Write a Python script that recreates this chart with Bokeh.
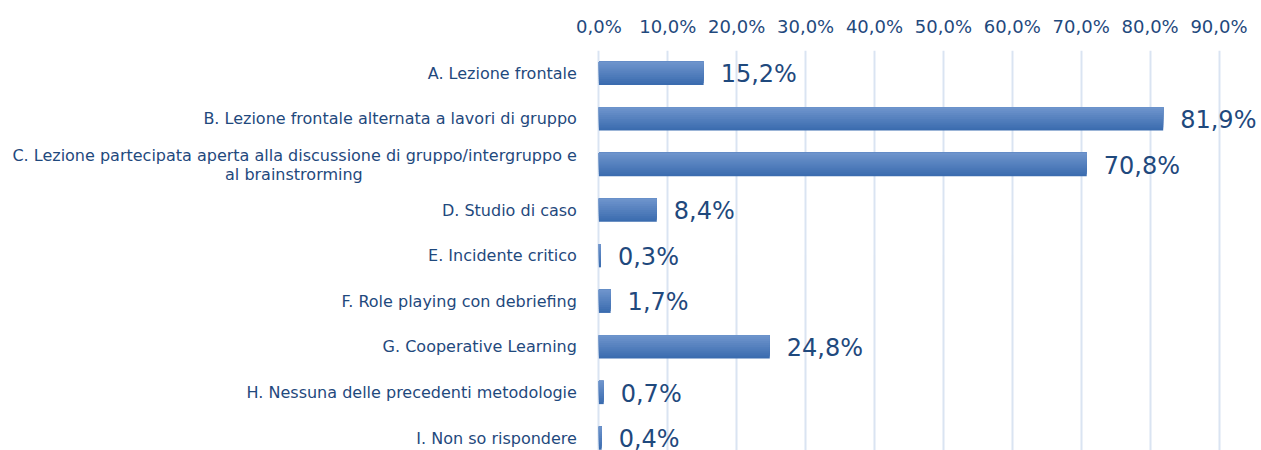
from bokeh.plotting import figure
from bokeh.models import FixedTicker, Range1d, ColumnDataSource
from bokeh.embed import file_html
from bokeh.resources import INLINE
from bokeh.core.properties import value

# ---------------- data ----------------
categories = [
    "A. Lezione frontale",
    "B. Lezione frontale alternata a lavori di gruppo",
    "C. Lezione partecipata aperta alla discussione di gruppo/intergruppo e\nal brainstrorming",
    "D. Studio di caso",
    "E. Incidente critico",
    "F. Role playing con debriefing",
    "G. Cooperative Learning",
    "H. Nessuna delle precedenti metodologie",
    "I. Non so rispondere",
]
values = [15.2, 81.9, 70.8, 8.4, 0.3, 1.7, 24.8, 0.7, 0.4]
value_labels = ["15,2%", "81,9%", "70,8%", "8,4%", "0,3%", "1,7%", "24,8%", "0,7%", "0,4%"]
tick_values = [0, 10, 20, 30, 40, 50, 60, 70, 80, 90]
tick_labels = ["0,0%", "10,0%", "20,0%", "30,0%", "40,0%", "50,0%",
               "60,0%", "70,0%", "80,0%", "90,0%"]

# ---------------- style ----------------
TEXT = "#1F497D"
GRID = "#DAE4F2"
TOP_C = (0x6E, 0x94, 0xCC)
BOT_C = (0x3B, 0x6C, 0xAF)
FONT = value("DejaVu Sans")

W, H = 1261, 450
TOP_BORDER = 50
ROW_PX = 45.6
PX_PER_PCT = 6.89
ZERO_PX = 598.4  # offset of 0% from the frame's left edge

n = len(categories)
ys = [n - 1 - i for i in range(n)]

x_start = -ZERO_PX / PX_PER_PCT
x_end = (W - ZERO_PX) / PX_PER_PCT
y_top = n - 0.5
y_bot = y_top - (H - TOP_BORDER) / ROW_PX

p = figure(width=W, height=H, output_backend="svg", toolbar_location=None,
           x_axis_location="above", y_axis_location=None,
           x_range=Range1d(x_start, x_end), y_range=Range1d(y_bot, y_top),
           min_border_left=0, min_border_right=0, min_border_bottom=0,
           min_border_top=TOP_BORDER)
p.outline_line_color = None
p.background_fill_color = "white"
p.border_fill_color = "white"

# axis
ax = p.xaxis[0]
ax.ticker = FixedTicker(ticks=tick_values)
ax.major_label_overrides = {t: l for t, l in zip(tick_values, tick_labels)}
ax.axis_line_color = None
ax.major_tick_line_color = None
ax.minor_tick_line_color = None
ax.major_tick_out = 0
ax.major_tick_in = 0
ax.major_label_standoff = 14
ax.major_label_text_font = "DejaVu Sans"
ax.major_label_text_font_size = "18px"
ax.major_label_text_color = TEXT

p.ygrid.visible = False
p.xgrid.ticker = FixedTicker(ticks=tick_values)
p.xgrid.grid_line_color = GRID
p.xgrid.grid_line_width = 2

# bars with a vertical gradient (layered quads anchored at the bar top)
BAR_H = 0.51
NSTEP = 12
for i in range(NSTEP):
    f = i / (NSTEP - 1)
    c = tuple(int(round(BOT_C[k] + (TOP_C[k] - BOT_C[k]) * f)) for k in range(3))
    color = "#%02x%02x%02x" % c
    frac = (NSTEP - i) / NSTEP
    src = ColumnDataSource(dict(
        left=[0] * n, right=values,
        top=[y + BAR_H / 2 for y in ys],
        bottom=[y + BAR_H / 2 - BAR_H * frac for y in ys]))
    p.quad(left="left", right="right", top="top", bottom="bottom", source=src,
           fill_color=color, line_color=None)

# value labels
p.text(x=values, y=ys, text=value_labels, x_offset=17, y_offset=1,
       text_align="left", text_baseline="middle", text_font=FONT,
       text_font_size="24px", text_color=TEXT)

# category labels
LBL_SIZE = "16px"
for cat, y in zip(categories, ys):
    lines = cat.split("\n")
    if len(lines) == 1:
        p.text(x=[0], y=[y], text=[cat], x_offset=-22, text_align="right",
               text_baseline="middle", text_font=FONT, text_font_size=LBL_SIZE,
               text_color=TEXT)
    else:
        p.text(x=[0], y=[y], text=[lines[0]], x_offset=-22, y_offset=-9.5,
               text_align="right", text_baseline="middle", text_font=FONT,
               text_font_size=LBL_SIZE, text_color=TEXT)
        p.text(x=[0], y=[y], text=[lines[1]], x_offset=-305, y_offset=9.5,
               text_align="center", text_baseline="middle", text_font=FONT,
               text_font_size=LBL_SIZE, text_color=TEXT)

open("out.html", "w").write(file_html(p, INLINE))
